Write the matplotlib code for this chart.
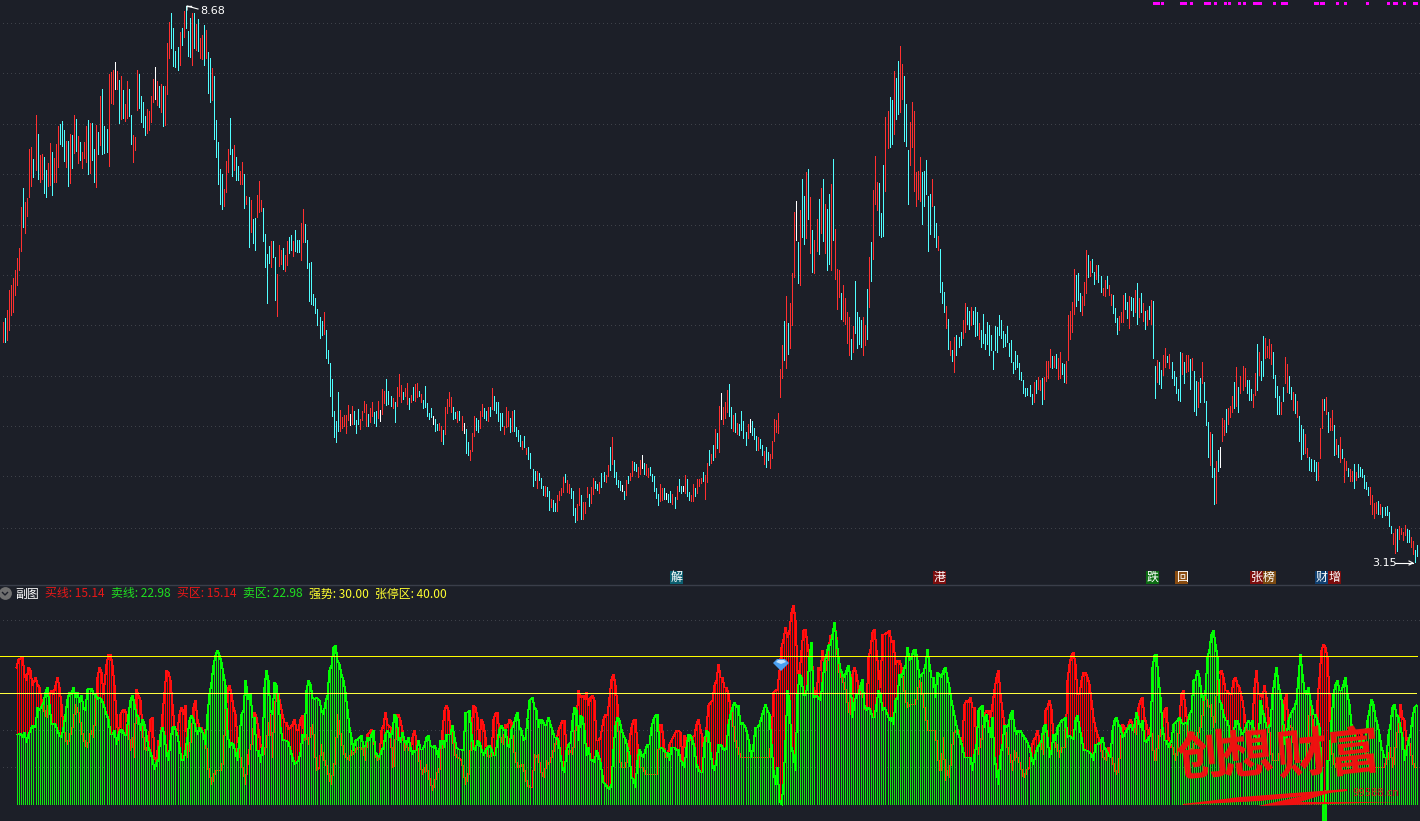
import numpy as np
import matplotlib
matplotlib.use('Agg')
import matplotlib.pyplot as plt

plt.rcParams['font.family'] = ['Noto Sans CJK SC', 'DejaVu Sans']

BG = '#1c1f28'
UP = '#ff3030'
DOWN = '#50ffff'

# prices in fen, bar by bar, left to right
highs_a = [552,556,564,584,589,596,604,616,626,667,686,672,676,725,727,715,759,740,719,720,717,704,711,731,722,716,730,748,750,753,744,733,733,740,739,759,755,738,732,722,
           732,748,754,751,751,725,749,742,778,785,748,745,800,802,804,812,803,794,798,784,770,793,785,759,739,737,804,800,778,772,758,765,763,778,795,807,793,788,790,788,788,831,852,861,846,823,827,842,846,863,868,843,856,861,861,850,855,836,839,849,844,822,816,806,798,754,732,705,700,685,713,725,756,725,729,717,708,703,712,700,678,677,674,655,656,679,693]
lows_a = [532,532,534,544,559,562,579,589,604,623,647,641,658,677,688,697,704,695,692,695,681,677,688,689,679,692,692,707,730,728,713,707,688,691,706,721,723,711,714,706,
          716,712,700,701,714,692,687,720,729,720,721,722,708,771,770,785,785,751,755,756,753,756,758,730,712,724,764,766,752,747,739,741,744,752,772,775,769,767,762,748,749,780,816,826,808,807,804,809,829,837,846,818,817,809,826,824,823,816,815,809,816,781,772,774,735,717,690,670,665,668,682,702,720,698,704,694,694,690,690,666,670,627,642,631,624,657,662]
colors_a = 'rcrrrrrrrrcrrrrcrcrrccrrcrrrcccrcrcrcrcr' 'rrcrccrcrcccrrrwrcrcrrccrrrccccrrrrwrcrcrrrccccrcrcccrcrcrrcrccrcccccrrrccrccrrcrcrccrr'

highs_b = [674,666,640,620,628,633,633,617,600,629,624,626,619,633,637,639,633,644,634,634,651,665,650,634,611,612,580,576,565,557,553,562,544,524,511,495,463,453,482,464,457,459,459,469,460,468,463,454,465,455,463,473,470,460,466,472,462,463,473,464,485,483,495,483,478,476,472,487,500,489,482,486,491,476,479,487,490,491,483,480,474,488,471,461,466,458,455,450,451,448,444,467,475,482,477,467,462,463,463,458]
lows_b = [663,633,607,571,611,607,617,574,558,608,610,605,603,609,621,624,618,623,622,622,614,632,632,606,573,570,569,561,549,536,539,540,516,511,478,458,437,432,443,443,446,448,441,454,449,450,450,441,450,445,454,462,448,448,452,458,451,448,456,453,460,471,469,470,468,466,452,468,478,472,475,478,470,465,472,474,473,477,478,472,466,467,458,455,457,450,443,444,444,433,430,440,461,468,462,455,456,452,454,444]
colors_b = 'rccccrccrrrcrrccrcccrrcccccccccrcccccccrrrrrwrcccrrrrcrrccrwrrcccrcrrrcrrcrcrrcrccccc' 'wccrrcrrrrccrcrc'

highs_c = [451,445,432,424,441,458,456,454,463,470,466,463,467,467,486,478,472,472,461,461,448,467,463,456,463,464,447,444,439,433,438,426,427,421,405,403,403,401,396,388,388,387,383,375,374,371,379,383,386,397,400,394,390,386,383,366,370,386,379,372,372,387,380,387,396,393,390,392,401,402,399,409,427,437,414,402,394,393,389,383,394,398,401,413,412,410,407,414,419,411,410,406,407,400,398,386,380]
lows_c = [441,421,419,414,423,438,444,442,446,458,456,454,453,458,465,464,461,453,444,448,440,447,448,442,443,443,438,433,428,425,427,420,415,406,388,394,386,394,386,379,378,378,364,367,363,363,363,374,379,382,392,382,381,376,359,352,354,369,355,355,361,377,368,371,380,386,384,381,387,393,392,398,404,410,397,390,387,384,383,375,379,391,394,398,404,403,397,400,406,400,399,397,399,393,383,376,369]
colors_c = 'wccrrrccrrccrcrccccc' 'rrrcrcccc' 'rcrccccrcccrccrccrrrrcrrccc' 'rrcrrrcrrccrccrrcrcccc' 'wcrcrrccrrwcrrccccc'

highs_d = [390,386,386,381,380,383,380,377,388,395,388,388,399,395,382,379,390,386,395,395,396,402,399,411,424,420,429,445,441,468,481,467,472,484,490,467,459,461,451,450,463,453,442,450,455,453,446,438,437,435,429,423,427,422,420,433,455,454,461,505,529,553,578,551,571,601,662,673,632,664,695,678,702,705,677,644,634,655,675,686,695,670,665,680,690,
           715,645,605,604,581,589,576,562,557,535,548,593,562,557,554,557,549,585,617,632,684,718,692,691,661,709,757,763,777,774,803,796,813,828,810,798,770,724,752,772,763,702,703,717,702,703,714,678,680,695,668,651,638,625,592,582,568,555,533,524,537,539,537,542,554,571,567,563,567,563,567,562,551,544,560,540,552,549,539,523,548,547,559,554,543,540,548,531,534,512,523,519,511]
lows_d = [373,374,375,375,372,372,370,366,375,383,381,383,381,378,374,373,373,378,381,388,391,393,375,392,409,411,414,417,426,422,455,450,456,462,458,446,443,442,440,439,444,436,429,436,442,439,435,424,424,426,419,410,407,414,406,416,433,442,441,477,496,514,506,520,526,549,597,634,591,589,637,630,636,655,621,602,601,623,620,641,633,621,604,610,604,
          634,595,565,577,555,553,550,531,519,515,522,541,526,530,527,519,529,535,567,593,615,670,664,639,637,638,683,726,727,730,740,755,760,762,775,733,728,670,709,727,683,668,675,673,650,668,680,623,640,668,637,627,624,582,571,562,546,525,519,513,502,519,527,529,536,542,550,545,549,550,538,539,535,527,531,525,530,519,524,505,524,522,539,536,527,528,532,518,512,501,505,507,495]
colors_d = ('rrcwccrcrccwrccrrcrrrcrrcrcrcrwrrrccrcrccccrwcccrccrccrrrrrrrcrcrrrwcrccrcrcrrcrcrc'
            'crcrrrcrrrrcrccccrrcrcrrrcccrrccrccrrcccrrrrrrcccccrccrcccrcrcrcccrrccrcccrcc')

highs_e = [502,494,486,486,489,480,492,494,497,494,496,497,513,513,525,518,518,520,516,522,511,510,513,559,563,572,605,599,601,581,578,592,624,619,613,615,602,609,609,598,586,594,598,589,580,579,566,556,558,562,579,581,572,578,577,576,584,591,576,581,571,563,564,568,574,573,508,514,512,504,519,526,518,520,512,503,497,485,522,521,512,519,519,515,516,503,493,492,496,512,492,473,452,442,440,406,413,424,427,456,454,465,466,468,478,492,507,487,498,508,506,494,494,485,480,501,530,522,513,538,536,528,535,530,522,499,488,478,472,487,517,510,498,487,482,480,473,458,449,445,440,426,417,415,414,412,412,446,475,475,477,462,456,464,449,435,429,437,425,416,413,406,405,403,410,402,410,407,405,399,392,387,387,379,371,372,373,370,367,367,368,362,348,341,345,345,348,346,342,349,345,344,337,333,324,329]
lows_e = [494,481,478,479,478,470,472,481,485,484,470,475,493,496,507,506,507,506,495,496,500,492,491,514,535,542,560,568,574,563,559,569,581,597,598,602,590,595,592,582,579,578,586,579,569,561,552,540,544,552,552,565,556,546,564,558,562,550,557,562,553,545,549,555,550,516,476,492,490,486,499,507,512,506,496,489,481,474,473,500,491,502,503,485,504,463,459,467,472,491,472,449,417,409,397,370,371,403,407,433,439,442,450,457,462,466,468,462,481,484,488,481,474,474,467,479,484,499,494,498,516,517,516,510,496,477,460,460,460,473,491,482,481,475,464,461,457,433,415,420,421,417,404,403,403,394,394,416,446,464,460,442,444,444,419,420,417,412,416,392,404,398,393,393,386,394,397,398,397,386,385,379,370,360,356,361,360,360,357,359,359,348,341,330,321,323,335,340,334,339,332,332,327,320,312,318]
colors_e = ('ccccccrcrrcrrrrcrcrrccrrrrrcccrrrcrccrccrrcrrcccrrrccrccrcrcrcrcrcc'
            'rccrrcrcccccrcrrcrcc'
            'rcrcccrccrcwrrcrrrcrcrrrcccrrcrccrrrrccccrcrrccrcrccc'
            'rrccccrrrcrcrrcrcrcrrcrrcrccccccrrrrcrcccccrrcrrrrccrr')

sections = [(highs_a, lows_a, colors_a), (highs_b, lows_b, colors_b), (highs_c, lows_c, colors_c),
            (highs_d, lows_d, colors_d), (highs_e, lows_e, colors_e)]

# pixel heights above the floor of the lower panel, 3.68 per indicator unit
sell_a = [69,69,70,66,71,61,69,73,78,76,96,93,97,101,111,116,99,79,80,79,73,68,66,76,89,104,111,109,116,106,111,101,108,96,93,116,114,115,115,110,109,104,106,104,99,89,84,69,69,73,59,69,74,73,68,69,89,103,108,99,89,86,73,84,79,68,56,51,44,34,41,44,69,76,68,51,43,63,76,77,68,56,44,43,53,66,83,88,84,76,69,76,73,69,59,89,109,121,138,148,153,148,141,129,118,66,73,56,61,59,51,43,66,89,93,123,104,110,86,86,53,53,41,56,116,133,123,93,89,121,118,103,76,64,63,63,61,53,46,39,41,43,51,69,66,113,123,119,106,104,106,103,93,89,101,108,133,138,156,158,143,139,129,123,111,93,76,66,53,63,64,66,68,56,58,63,66,63,69,73,51,48,46,53,56,69,73,66,73,89,86,66,61,71,63,59,66,56,49,53,53,63,54,54,58,66,68,58,56,58,53,46,63,63,56,69,69,69,78,66,56,54,54,53,91,91,93,69,56,53,63,61]
buy_a = [136,144,145,147,129,123,136,133,118,126,119,116,104,96,89,86,109,113,109,118,126,116,99,76,66,59,66,73,79,99,93,89,73,66,59,59,56,66,73,66,89,126,136,131,109,139,149,149,138,118,89,63,89,93,94,89,76,53,66,46,114,108,103,76,56,53,59,84,86,46,43,63,63,89,111,133,131,123,99,76,73,89,96,89,98,46,59,63,96,103,84,76,76,66,74,36,33,19,26,33,33,33,33,46,89,113,113,118,109,96,89,66,56,36,36,19,49,59,59,91,86,74,59,53,49,63,73,89,46,96,108,109,99,89,81,81,74,76,79,84,74,73,84,88,63,69,59,73,79,59,33,36,59,43,43,33,26,19,36,43,89,76,63,53,46,46,43,53,49,53,56,56,56,53,43,69,69,71,74,69,49,43,46,73,78,91,79,76,36,39,89,89,83,73,53,59,53,53,66,73,63,46,39,29,33,39,26,23,13,19,29,33,36,73,93,98,93,73,69,51,46,46,43,33,19,26,33,73,98,96,86,63]

sell_b = [54,48,53,56,58,54,48,48,63,74,78,73,74,53,59,56,74,78,86,91,76,73,63,66,84,103,106,96,93,76,84,83,78,79,86,79,73,66,66,63,48,36,31,53,59,61,83,96,93,63,88,86,73,48,56,43,44,41,53,48,41,21,19,16,14,19,54,78,86,83,74,68,64,56,48,26,24,16,43,54,49,46,54,53,59,59,76,84,88,89,56,56,54,51,51,43,56,56,53,54,43,41,36,56,69,68,63,56,39,34,31,31,61,73,71,51,38,33,43,59]
buy_b = [84,79,66,49,46,48,84,90,91,69,63,59,79,81,76,84,81,56,46,36,36,39,39,26,19,16,16,49,46,49,33,29,26,43,39,43,49,56,63,73,78,83,83,56,49,53,49,63,83,113,106,108,104,111,98,106,108,103,63,63,66,84,89,88,106,124,129,118,99,46,36,36,36,46,63,76,83,84,59,36,36,36,29,29,29,29,29,29,29,29,78,79,64,46,46,59,63,69,73,73,71,43,68,63,63,63,66,68,79,84,74,66,48,76,98,101,103,118,123,139]

sell_c = [59,56,53,56,79,89,96,101,96,98,79,81,76,69,59,46,59,76,76,79,86,93,99,93,89,59,33,19,36,3,-1,19,63,93,113,103,56,49,33,109,129,126,109,108,118,146,161,106,108,106,103,121,141,149,158,159,169,181,163,146,134,129,126,133,138,126,86,101,109,109,118,124,98,93,96,93,86,86,99,113,109,93,96,89,83,86,79,103,106,129,126,133,138,156,143,146,153,154,143,126,129,131,139,159,154,139,126,126,106,131,129,126,133,136,126,116,103,93,83,69,63,56,46,46,46,46,33,49,59,93,96,98,76,89,76,66,86,46,33,19,48,59,78,76,79,89,93,76,69,73,73,69,66,63,56,46,39,49,56,59,63,76,79,66,46,53,69,63,76,79]
buy_c = [126,126,116,116,109,96,89,66,59,53,46,46,46,46,46,46,46,46,46,46,46,46,46,46,46,63,111,113,114,133,156,164,176,171,166,173,191,198,183,133,128,153,173,174,159,146,159,116,106,136,133,153,139,133,153,168,168,179,166,133,129,123,119,109,93,89,129,136,129,116,109,116,96,93,146,154,171,174,153,133,116,169,169,171,173,161,163,139,143,143,136,119,106,96,99,99,99,99,109,123,119,99,93,83,73,73,73,73,73,53,33,33,66,23,33,26,49,69,73,73,59,66,99,103,101,106,96,96,59,49,63,66,89,93,93,86,99,114,126,133,109,93,79,63,49,49,33,53,49,43,39,29,26,33,36,56,63,66,73,63,59,49,93,96,103,94,66,56,59,46]

sell_d = [83,84,86,69,66,68,66,64,83,88,76,66,54,53,53,51,49,43,59,59,61,66,56,53,49,46,73,83,86,79,76,66,69,73,76,79,73,79,91,83,76,83,63,61,66,68,136,148,149,126,106,76,63,63,56,63,79,81,83,86,81,79,81,79,89,93,123,124,133,126,109,103,113,136,146,154,169,173,159,146,103,99,89,83,83,73,59,69,83,83,76,69,73,79,83,79,83,69,66,56,103,93,86,76,76,79,109,123,136,119,109,99,59,66,83,89,93,96,103,126,149,129,113,109,116,103,89,89,83,76,36,-17,-17,43,43,83,109,119,123,113,113,119,126,119,109,99,79,73,66,66,63,56,66,66,83,93,104,99,86,79,69,56,46,46,69,79,96,99,89,86,76,66,43,53,63,69,86,96,98]
buy_d = [56,56,56,83,123,139,148,151,139,109,109,123,131,131,126,119,103,86,76,69,59,46,46,43,56,49,43,36,29,33,56,79,76,73,79,84,79,73,69,96,103,106,86,79,69,76,63,43,43,66,69,79,93,96,66,56,56,43,53,86,109,113,96,79,56,53,56,63,66,76,76,99,109,103,99,96,99,76,86,129,131,133,126,113,113,109,109,123,126,119,116,103,89,73,73,63,83,116,133,109,109,106,118,106,86,56,43,43,43,43,56,63,103,109,79,76,76,46,43,43,43,43,39,43,76,99,76,46,103,126,153,159,156,146,109,56,43,36,39,43,43,43,43,43,36,36,66,63,69,73,73,69,56,56,43,36,36,36,36,36,36,36,36,43,46,56,36,43,69,73,99,86,83,63,66,53,43,36,36]

GRID_PRICES = [8.505, 8.005, 7.495, 6.995, 6.485, 5.985, 5.485, 4.975, 4.475, 3.975, 3.465]
GRID_LEVELS = [40, 10, 0]
STRONG_LEVEL = 30
MID_LEVEL = 20

# bars that carry a magenta signal along the top edge
signal_bars = [569,570,571,573,582,583,584,587,594,595,596,599,604,606,611,613,618,619,620,621,628,632,633,634,648,649,651,652,659,663,674,684,687,688,692,697,698]

legend_items = [('买线: 15.14', '#e81818'), ('卖线: 22.98', '#20e020'), ('买区: 15.14', '#e81818'),
                ('卖区: 22.98', '#20e020'), ('强势: 30.00', '#ffff30'), ('张停区: 40.00', '#ffff30')]
legend_x = [45, 111, 177, 243, 309, 375]

# tags above the lower panel: text, colours per character, left edge
tags = [('解', ['#0b5f70'], 670), ('港', ['#7c0d0d'], 933), ('跌', ['#0b6b12'], 1146), ('回', ['#8a4c10'], 1175),
        ('张榜', ['#7c0d0d', '#7c4a10'], 1250), ('财增', ['#0f3f70', '#7c0d0d'], 1315)]


def bar_column(i):
    # the terminal spaces bars 2 px apart and skips one extra pixel every 35 bars
    i = np.asarray(i)
    return 1 + 2 * i + (i + 18) // 35 - 0.5


highs, lows, colors = [], [], ''
for h, l, c in sections:
    n = min(len(h), len(l))
    highs += h[:n]
    lows += l[:n]
    colors += (c + 'c' * n)[:n]
highs = np.array(highs)[-699:] / 100
lows = np.array(lows)[-699:] / 100
colors = colors[-699:]
bars = np.arange(699 - len(highs), 699)

sell, buy = [], []
for s, b in [(sell_a, buy_a), (sell_b, buy_b), (sell_c, buy_c), (sell_d, buy_d)]:
    n = min(len(s), len(b))
    sell += s[:n]
    buy += b[:n]
picked = np.round(np.linspace(0, len(sell) - 1, 691)).astype(int)
sell = np.array(sell)[picked] / 3.68 - 10
buy = np.array(buy)[picked] / 3.68 - 10
sub_x = bar_column(np.arange(8, 699))

fig = plt.figure(figsize=(14.2, 8.21), dpi=100, facecolor=BG)
ax = fig.add_axes([0, 236 / 821, 1, 585 / 821], facecolor=BG)
sub = fig.add_axes([0, 0, 1, 236 / 821], facecolor=BG)
top = fig.add_axes([0, 0, 1, 1], facecolor='none')

# main panel, one pixel per price cent
ax.set_xlim(0, 1420)
ax.set_ylim(2.89, 8.74)
ax.hlines(GRID_PRICES, 3, 1420, color='#3e4149', lw=0.72, linestyles=[(0, (1, 3))], capstyle='butt', antialiased=False, zorder=1)
palette = {'r': UP, 'c': DOWN, 'w': '#ffffff'}
ax.vlines(bar_column(bars), lows, highs, colors=[palette[c] for c in colors], lw=0.72, capstyle='butt', antialiased=False, zorder=2)
ax.bar(bar_column(signal_bars), 0.03, bottom=8.69, width=3, color='#ff00ff', zorder=3)

# lower panel
sub.set_xlim(0, 1420)
sub.set_ylim(-14.755, 49.375)
sub.hlines(GRID_LEVELS, 3, 1420, color='#3e4149', lw=0.72, linestyles=[(0, (1, 3))], capstyle='butt', antialiased=False, zorder=1)
above = buy > sell
sub.vlines(sub_x[above], sell[above], buy[above], color='#ff0000', lw=0.72, capstyle='butt', antialiased=False, zorder=2)
sub.plot(sub_x, buy, color='#ff1010', lw=0.72, antialiased=False, zorder=2)
sub.vlines(sub_x, -10, sell, color='#10e810', lw=0.72, capstyle='butt', antialiased=False, zorder=3)
sub.plot(sub_x, sell, color='#00ff00', lw=0.72, antialiased=False, zorder=4)
sub.hlines(STRONG_LEVEL, 0, 1417, color='#ffff00', lw=0.72, capstyle='butt', antialiased=False, zorder=5)
sub.hlines(MID_LEVEL, 0, 1417, color='#ffff40', lw=0.72, linestyles=[(0, (1, 1))], capstyle='butt', antialiased=False, zorder=5)

for a in (ax, sub, top):
    a.set_xticks([])
    a.set_yticks([])
    for spine in a.spines.values():
        spine.set_visible(False)

# overlay in plain pixel coordinates for the labels and decorations
top.set_xlim(0, 1420)
top.set_ylim(821, 0)
top.axhline(585, color='#3a3e4a', lw=1.0)

for (label, colours, x0) in tags:
    for j, ch in enumerate(label):
        top.fill_between([x0 + j * 12.5, x0 + (j + 1) * 12.5 + 0.5], 571, 584.5, color=colours[j], lw=0)
        top.text(x0 + j * 12.5 + 6.5, 577.5, ch, color='white', fontsize=8.6, ha='center', va='center')

top.scatter([5], [593.5], s=85, color='#707070', lw=0, zorder=5)
top.plot([2.5, 5, 7.5], [592.5, 595, 592.5], color='#1c1f28', lw=1.0, zorder=6)
top.text(15, 594, '副图', color='white', fontsize=8.6, va='center')
for (label, colour), x0 in zip(legend_items, legend_x):
    top.text(x0, 594, label, color=colour, fontsize=8.6, va='center')

top.text(200, 10.5, '8.68', color='white', fontsize=8, family='DejaVu Sans', va='center')
top.plot([187, 187, 198], [10, 6, 9], color='white', lw=0.8)
top.plot([187, 191], [6, 6], color='white', lw=1.0)
top.text(1372, 563.5, '3.15', color='white', fontsize=8, family='DejaVu Sans', va='center')
top.plot([1395, 1413], [563, 563], color='white', lw=0.8)
top.plot([1409, 1413, 1409], [561, 563, 565], color='white', lw=0.8)

# blue diamond on the lower panel
top.fill([773, 777, 785, 789, 781], [663, 659, 659, 663, 671], color='#4aa0f0', lw=0, zorder=7)
top.fill([776, 778, 784, 786, 781], [662, 660, 660, 662, 664], color='#bfe3ff', lw=0, zorder=8)

# watermark
for ch, x0, y0 in [('创', 1202, 758), ('想', 1247, 757), ('财', 1302, 756), ('富', 1354, 754)]:
    top.text(x0, y0, ch, color='#f01010', fontsize=37, weight='bold', ha='center', va='center', rotation=6, zorder=9)
top.fill([1183, 1240, 1347, 1347, 1260, 1183], [804, 797, 789, 791, 801, 805], color='#f01010', lw=0, zorder=9)
top.fill([1258, 1320, 1332, 1300, 1400, 1258], [806, 792, 792, 802, 802, 806], color='#f01010', lw=0, zorder=9)
top.text(1352, 793, '99588.cn', color='#e01818', fontsize=7.2, family='DejaVu Sans', va='center', zorder=9)

fig.savefig('out.png', dpi=100, facecolor=BG)
